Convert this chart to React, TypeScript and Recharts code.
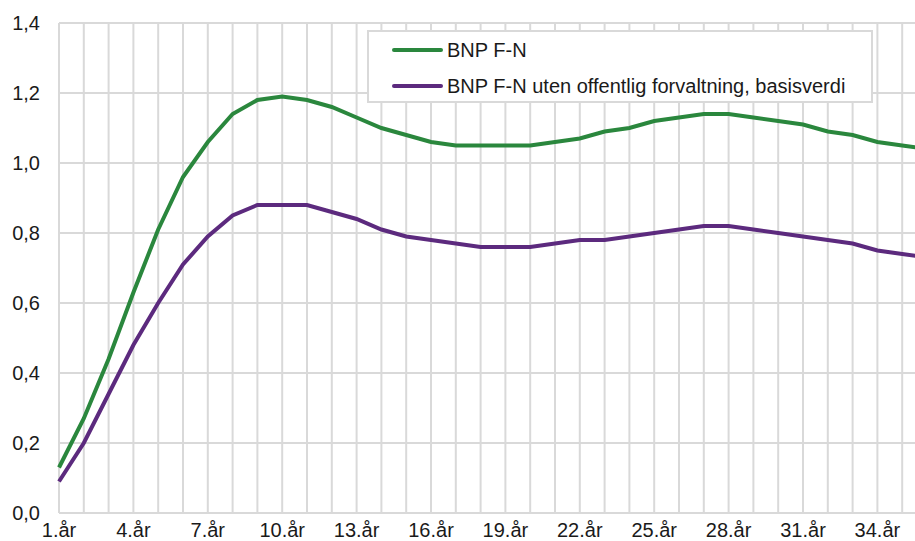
import { LineChart, Line, XAxis, YAxis, CartesianGrid } from 'recharts'

const YEARS = [
  '1.år', '2.år', '3.år', '4.år', '5.år', '6.år', '7.år', '8.år', '9.år', '10.år', '11.år', '12.år',
  '13.år', '14.år', '15.år', '16.år', '17.år', '18.år', '19.år', '20.år', '21.år', '22.år', '23.år', '24.år',
  '25.år', '26.år', '27.år', '28.år', '29.år', '30.år', '31.år', '32.år', '33.år', '34.år', '35.år', '36.år',
]

const BNP_FN = [
  0.13, 0.27, 0.44, 0.63, 0.81, 0.96, 1.06, 1.14, 1.18, 1.19, 1.18, 1.16,
  1.13, 1.1, 1.08, 1.06, 1.05, 1.05, 1.05, 1.05, 1.06, 1.07, 1.09, 1.1,
  1.12, 1.13, 1.14, 1.14, 1.13, 1.12, 1.11, 1.09, 1.08, 1.06, 1.05, 1.04,
]

const BNP_FN_UTEN_OFF = [
  0.09, 0.2, 0.34, 0.48, 0.6, 0.71, 0.79, 0.85, 0.88, 0.88, 0.88, 0.86,
  0.84, 0.81, 0.79, 0.78, 0.77, 0.76, 0.76, 0.76, 0.77, 0.78, 0.78, 0.79,
  0.8, 0.81, 0.82, 0.82, 0.81, 0.8, 0.79, 0.78, 0.77, 0.75, 0.74, 0.73,
]

const Y_TICKS = [0, 0.2, 0.4, 0.6, 0.8, 1.0, 1.2, 1.4]

const SERIES = [
  { key: 'bnp', name: 'BNP F-N', color: '#2a873d', values: BNP_FN },
  { key: 'uten', name: 'BNP F-N uten offentlig forvaltning, basisverdi', color: '#5c2a7e', values: BNP_FN_UTEN_OFF },
]

const data = YEARS.map((year, i) => {
  const row: Record<string, string | number> = { year }
  SERIES.forEach((s) => {
    row[s.key] = s.values[i]
  })
  return row
})

const FONT = '"Liberation Sans", Arial, sans-serif'
const TEXT = '#1a1a1a'
const GRID = '#d9d9d9'

export default function App() {
  return (
    <div
      style={{
        position: 'absolute',
        left: 0,
        top: 0,
        width: 915,
        height: 541,
        overflow: 'hidden',
        background: '#fff',
        fontFamily: FONT,
      }}
    >
      <LineChart width={935} height={541} data={data} margin={{ top: 23, right: 8, bottom: 0, left: 0 }}>
        <CartesianGrid stroke={GRID} strokeWidth={2} />
        <XAxis
          dataKey="year"
          interval={0}
          height={28}
          axisLine={false}
          tickLine={false}
          tickSize={0}
          tickMargin={10}
          tickFormatter={(v: string, i: number) => (i % 3 === 0 ? v : '')}
          tick={{ fill: TEXT, fontSize: 20, fontFamily: FONT }}
        />
        <YAxis
          width={59}
          domain={[0, 1.4]}
          ticks={Y_TICKS}
          axisLine={false}
          tickLine={false}
          tickSize={0}
          tickMargin={19}
          tickFormatter={(v: number) => v.toFixed(1).replace('.', ',')}
          tick={{ fill: TEXT, fontSize: 20, fontFamily: FONT }}
        />
        {SERIES.map((s) => (
          <Line
            key={s.key}
            dataKey={s.key}
            name={s.name}
            type="linear"
            stroke={s.color}
            strokeWidth={4}
            dot={false}
            activeDot={false}
            isAnimationActive={false}
          />
        ))}
      </LineChart>

      <div
        style={{
          position: 'absolute',
          left: 367,
          top: 30,
          width: 506,
          height: 73,
          boxSizing: 'border-box',
          border: `2px solid ${GRID}`,
          background: '#fff',
        }}
      >
        {SERIES.map((s, i) => (
          <div
            key={s.key}
            style={{
              position: 'absolute',
              left: 23,
              top: 6 + i * 36,
              height: 24,
              display: 'flex',
              alignItems: 'center',
              whiteSpace: 'nowrap',
            }}
          >
            <span
              style={{
                display: 'inline-block',
                width: 51,
                height: 4,
                borderRadius: 2,
                background: s.color,
                marginRight: 4,
              }}
            />
            <span style={{ fontSize: 20, color: TEXT }}>{s.name}</span>
          </div>
        ))}
      </div>
    </div>
  )
}
